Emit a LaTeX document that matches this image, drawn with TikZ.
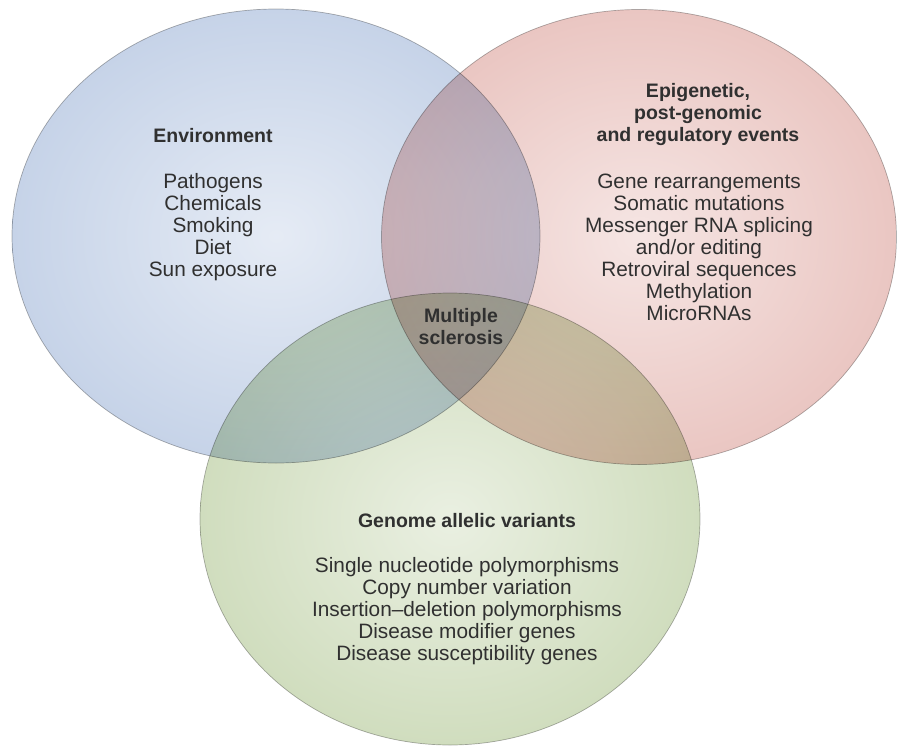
\documentclass[tikz,border=0pt]{standalone}
\usepackage{fontspec}
\setmainfont{Liberation Sans}
\usetikzlibrary{shapes.geometric,positioning}

\definecolor{envblue}{HTML}{C6D3E8}
\definecolor{epired}{HTML}{EAC6C2}
\definecolor{gengreen}{HTML}{D0DDBE}
\definecolor{txtgray}{HTML}{303030}

\begin{document}
\begin{tikzpicture}[x=1pt,y=-1pt,
  blob/.style={ellipse,draw=black!30,line width=0.7pt,inner sep=0pt,blend mode=multiply},
  head/.style={font=\fontsize{19.5}{22}\selectfont\bfseries,align=center,text=txtgray},
  items/.style={font=\fontsize{20.8}{22}\selectfont,align=center,text=txtgray}]
% three overlapping ellipses, text placed by hand
\useasboundingbox (0,0) rectangle (897,747);

\node[blob,inner color=envblue!45!white,outer color=envblue,minimum width=528,minimum height=454] (envc) at (276,236) {};
\node[blob,inner color=epired!45!white,outer color=epired,minimum width=515,minimum height=455] (epic) at (639,237) {};
\node[blob,inner color=gengreen!45!white,outer color=gengreen,minimum width=500,minimum height=452] (genc) at (450,519) {};

\node[head] (env) at (213,136) {Environment};
\node[items,anchor=north] (envl) at (213,170) {Pathogens\\Chemicals\\Smoking\\Diet\\Sun exposure};

\node[head] (epi) at (698,114) {Epigenetic,\\post-genomic\\and regulatory events};
\node[items,anchor=north] (epil) at (699,170) {Gene rearrangements\\Somatic mutations\\Messenger RNA splicing\\and/or editing\\Retroviral sequences\\Methylation\\MicroRNAs};

\node[head] (gen) at (467,521) {Genome allelic variants};
\node[items,anchor=north] (genl) at (467,554) {Single nucleotide polymorphisms\\Copy number variation\\Insertion--deletion polymorphisms\\Disease modifier genes\\Disease susceptibility genes};

\node[head] (ms) at (461,327) {Multiple\\sclerosis};
\end{tikzpicture}
\end{document}
